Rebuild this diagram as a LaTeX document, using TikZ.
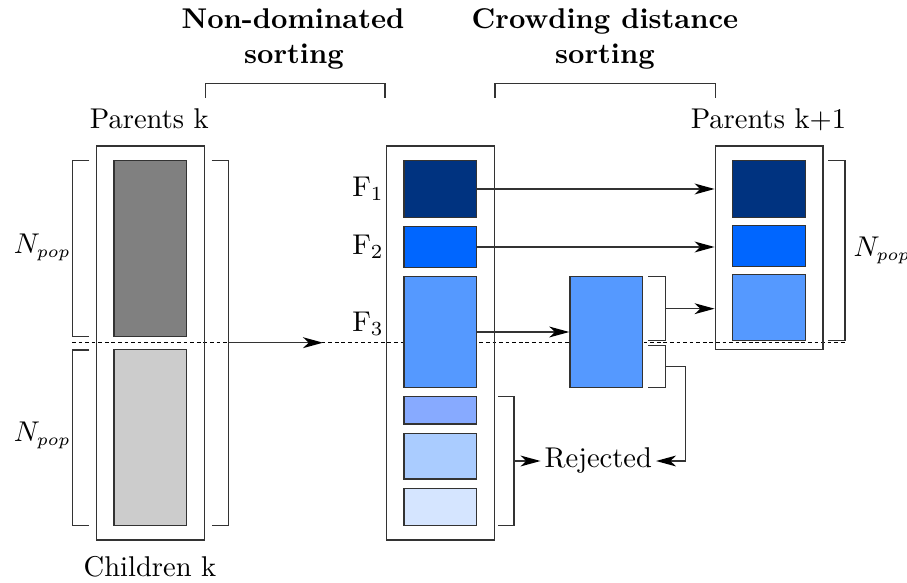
\documentclass[tikz,border=0pt]{standalone}
\usetikzlibrary{arrows.meta,fit}
\definecolor{cA}{HTML}{003380}
\definecolor{cB}{HTML}{0066FF}
\definecolor{cC}{HTML}{5599FF}
\definecolor{cD}{HTML}{87AAFF}
\definecolor{cE}{HTML}{AACCFF}
\definecolor{cF}{HTML}{D5E5FF}
\definecolor{gD}{HTML}{808080}
\definecolor{gL}{HTML}{CCCCCC}
\definecolor{linec}{HTML}{333333}
\newcommand{\npoplabel}{$N_{\mbox{\fontsize{6}{6}\selectfont$pop$}}$}
\begin{document}
\begin{tikzpicture}[x=0.35pt,y=-0.35pt,
  box/.style={draw=linec, line width=0.5pt, inner sep=0pt},
  brk/.style={draw=linec, line width=0.5pt},
  arr/.style={draw=linec, line width=0.5pt, -{Stealth[length=7pt,width=3.8pt,inset=2pt,color=black]}},
  lbl/.style={inner sep=0pt, anchor=base},
  dashline/.style={draw=black, line width=0.4pt, dash pattern=on 1.3pt off 1pt}]
\useasboundingbox (0,0) rectangle (907,583);

% titles
\node[lbl, font=\bfseries] (t1a) at (293,28.3) {Non-dominated};
\node[lbl, font=\bfseries] (t1b) at (294,63.3) {sorting};
\node[lbl, font=\bfseries] (t2a) at (605,28.3) {Crowding distance};
\node[lbl, font=\bfseries] (t2b) at (605,63.3) {sorting};
\draw[brk] (205.7,98) -- (205.7,83.3) -- (385,83.3) -- (385,98);
\draw[brk] (495,98) -- (495,83.3) -- (715.7,83.3) -- (715.7,98);

% labels
\node[lbl] (lpar) at (149.3,128.3) {Parents k};
\node[lbl] (lchi) at (150,576.7) {Children k};
\node[lbl] (lpar2) at (768.5,128.3) {Parents k+1};

% dashed line
\draw[dashline] (72,342.7) -- (846,342.7);

% left column
\node[box, fit={(96.7,146)(204.3,540)}] (left) {};
\node[box, fill=gD, fit={(114,160.7)(186.7,336.7)}] (par) {};
\node[box, fill=gL, fit={(114,349.3)(186.7,525.7)}] (chi) {};
\draw[brk] (89.3,160.7) -- (72.7,160.7) -- (72.7,336.7) -- (89.3,336.7);
\draw[brk] (89.3,350) -- (72.7,350) -- (72.7,525.7) -- (89.3,525.7);
\draw[brk] (211.7,160.7) -- (228.3,160.7) -- (228.3,525.7) -- (211.7,525.7);
\node[lbl, anchor=base west] (n1) at (13.3,253.3) {\npoplabel};
\node[lbl, anchor=base west] (n2) at (13.3,441.7) {\npoplabel};
\coordinate (lbm) at (228.3,342.7);
\coordinate (lend) at (323,342.7);
\draw[arr] (lbm) -- (lend);

% middle column
\node[box, fit={(386.7,146)(494.3,540)}] (mid) {};
\node[box, fill=cA, fit={(404,160.7)(476.7,217.3)}] (f1) {};
\node[box, fill=cB, fit={(404,226.7)(476.7,267.3)}] (f2) {};
\node[box, fill=cC, fit={(404,276.7)(476.7,387.3)}] (f3) {};
\node[box, fill=cD, fit={(404,396.7)(476.7,424)}] (r1) {};
\node[box, fill=cE, fit={(404,433.3)(476.7,479)}] (r2) {};
\node[box, fill=cF, fit={(404,488.3)(476.7,525.7)}] (r3) {};
\node[lbl, anchor=base west] (lf1) at (351.7,196.7) {F$_1$};
\node[lbl, anchor=base west] (lf2) at (351.7,254) {F$_2$};
\node[lbl, anchor=base west] (lf3) at (351.7,331.7) {F$_3$};
\draw[brk] (498.3,396.7) -- (514,396.7) -- (514,525.7) -- (498.3,525.7);

% crowding column
\node[box, fill=cC, fit={(570,276.7)(642.7,387.3)}] (cr) {};
\draw[brk] (648.3,276.7) -- (665.3,276.7) -- (665.3,340.7) -- (648.3,340.7);
\draw[brk] (648.3,345.3) -- (665.3,345.3) -- (665.3,387.3) -- (648.3,387.3);

% parents k+1
\node[box, fit={(715.3,146)(823,349.3)}] (np) {};
\node[box, fill=cA, fit={(732.3,160.7)(805.7,217.3)}] (p1) {};
\node[box, fill=cB, fit={(732.3,225.3)(805.7,266.3)}] (p2) {};
\node[box, fill=cC, fit={(732.3,274.3)(805.7,340.3)}] (p3) {};
\draw[brk] (828.3,160.7) -- (845,160.7) -- (845,340.3) -- (828.3,340.3);
\node[lbl, anchor=base west] (n3) at (853,256) {\npoplabel};

% rejected
\node[inner sep=1.2pt] (rej) at (598.3,461) {Rejected};
\coordinate (rbm) at (514,461);
\coordinate (cbu) at (665.3,308.7);
\coordinate (cbl) at (665.3,366.3);

% connectors
\draw[arr] (f1.east) -- (f1.east -| np.west);
\draw[arr] (f2.east) -- (f2.east -| np.west);
\draw[arr] (f3.east) -- (cr.west);
\draw[arr] (cbu) -- (cbu -| np.west);
\draw[arr] (rbm) -- (rej.west);
\draw[arr] (cbl) -- (685.7,366.3) -- (685.7,461) -- (rej.east);
\end{tikzpicture}
\end{document}
